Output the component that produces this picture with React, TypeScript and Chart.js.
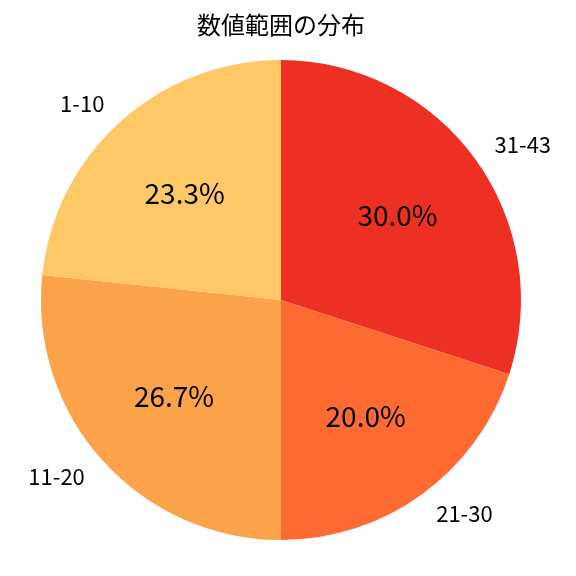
import React, { useEffect, useRef } from "react";
import { Chart, registerables } from "chart.js";

Chart.register(...registerables);

const TITLE = "数値範囲の分布";
const categories = ["31-43", "21-30", "11-20", "1-10"];
const counts = [9, 6, 8, 7];
const colors = ["#EE3024", "#FD6B33", "#FCA249", "#FEC866"];

const FONT = "'Noto Sans CJK JP', 'Noto Sans', sans-serif";

const labelPlugin = {
  id: "pieLabels",
  afterDatasetsDraw(chart: any) {
    const ctx = chart.ctx;
    const meta = chart.getDatasetMeta(0);
    const total = counts.reduce((a, b) => a + b, 0);
    ctx.save();
    ctx.fillStyle = "#000";
    meta.data.forEach((arc: any, i: number) => {
      const { x, y, startAngle, endAngle, outerRadius } = arc.getProps(
        ["x", "y", "startAngle", "endAngle", "outerRadius"],
        true
      );
      const mid = (startAngle + endAngle) / 2;
      const cx = Math.cos(mid);
      const cy = Math.sin(mid);
      // percent
      ctx.font = `28px ${FONT}`;
      ctx.textAlign = "center";
      ctx.textBaseline = "middle";
      ctx.fillText(
        ((counts[i] / total) * 100).toFixed(1) + "%",
        x + cx * outerRadius * 0.6,
        y + cy * outerRadius * 0.6
      );
      // category
      ctx.font = `22px ${FONT}`;
      const lx = x + cx * outerRadius * 1.1;
      const ly = y + cy * outerRadius * 1.1;
      ctx.textAlign = lx > x ? "left" : "right";
      ctx.fillText(categories[i], lx, ly);
    });
    // title
    ctx.font = `24px ${FONT}`;
    ctx.textAlign = "center";
    ctx.textBaseline = "middle";
    ctx.fillText(TITLE, chart.chartArea.left + (chart.chartArea.right - chart.chartArea.left) / 2, 25);
    ctx.restore();
  },
};

export default function App() {
  const ref = useRef<HTMLCanvasElement | null>(null);
  useEffect(() => {
    document.body.style.margin = "0";
    const chart = new Chart(ref.current!, {
      type: "pie",
      data: {
        labels: categories,
        datasets: [
          {
            data: counts,
            backgroundColor: colors,
            borderWidth: 0,
          },
        ],
      },
      options: {
        animation: false,
        responsive: false,
        layout: { padding: { top: 60, bottom: 36, left: 41, right: 55 } },
        plugins: {
          legend: { display: false },
          title: { display: false },
          tooltip: { enabled: false },
        },
      },
      plugins: [labelPlugin],
    });
    return () => chart.destroy();
  }, []);
  return (
    <div style={{ width: 576, height: 576, background: "#fff" }}>
      <canvas ref={ref} width={576} height={576} style={{ width: 576, height: 576 }} />
    </div>
  );
}
